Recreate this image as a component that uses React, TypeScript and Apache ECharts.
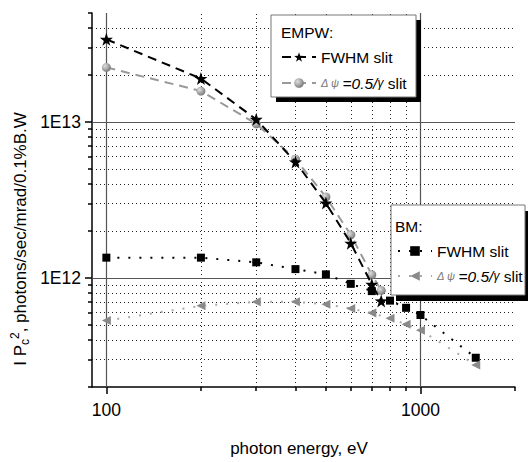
import React, { useEffect, useRef } from 'react';
import * as echarts from 'echarts';

// ---- data ----
const energyEmpw = [100, 200, 300, 400, 500, 600, 700, 750];
const empwFwhm = [3.39e13, 1.9e13, 1.04e13, 5.55e12, 3.02e12, 1.67e12, 0.91e12, 0.713e12];
const empwHalf = [2.24e13, 1.58e13, 9.75e12, 5.78e12, 3.31e12, 1.89e12, 1.05e12, 0.832e12];

const energyBm = [100, 200, 300, 400, 500, 600, 700, 800, 900, 1000, 1500];
const bmFwhm = [1.35e12, 1.35e12, 1.26e12, 1.14e12, 1.055e12, 0.917e12, 0.824e12, 0.716e12, 0.644e12, 0.579e12, 0.308e12];
const bmHalf = [0.533e12, 0.663e12, 0.703e12, 0.703e12, 0.679e12, 0.637e12, 0.596e12, 0.551e12, 0.505e12, 0.463e12, 0.277e12];

// ---- axes ----
const xMin = 90;
const xMax = 2000;
const yMin = 2e11;
const yMax = 5e13;
const xMajor = [100, 1000];
const xTickLabels = ['100', '1000'];
const xMinor = [200, 300, 400, 500, 600, 700, 800, 900];
const xMinorTicks = [200, 300, 400, 500, 600, 700, 800, 900, 2000];
const yMajor = [1e12, 1e13];
const yTickLabels = ['1E12', '1E13'];
const yMinor = [3e11, 4e11, 5e11, 6e11, 7e11, 8e11, 9e11, 2e12, 3e12, 4e12, 5e12, 6e12, 7e12, 8e12, 9e12, 2e13, 3e13, 4e13];
const yMinorTicks = [2e11, ...yMinor, 5e13];

const FONT = "'Liberation Sans', Arial, sans-serif";
const STAR = 'path://M50,0 L61.8,35.1 98.1,35.3 68.8,57 79.4,91.9 50,70.6 20.6,91.9 31.2,57 1.9,35.3 38.2,35.1 Z';

const legendText: Record<string, string> = {
  'EMPW FWHM': 'FWHM slit',
  'EMPW half': '{d|Δ ψ }{i|=0.5/}{g|γ} slit',
  'BM FWHM': 'FWHM slit',
  'BM half': '{d|Δ ψ }{i|=0.5/}{g|γ} slit',
};

const pick = (vals: number[], labels: string[], v: number) => {
  for (let i = 0; i < vals.length; i++) {
    if (Math.abs(vals[i] - v) / vals[i] < 1e-6) return labels[i];
  }
  return '';
};

const ballColor = {
  type: 'radial',
  x: 0.35,
  y: 0.35,
  r: 0.75,
  colorStops: [
    { offset: 0, color: '#e0e0e0' },
    { offset: 1, color: '#6f6f6f' },
  ],
};

export default function App() {
  const ref = useRef<HTMLDivElement>(null);
  useEffect(() => {
    if (!ref.current) return;
    const chart = echarts.init(ref.current, null, { renderer: 'svg' });
    const major = { color: '#555', width: 1.2, type: 'solid' };
    const minor = { color: '#222', width: 1, type: [1, 3] };
    const legendRich = {
      d: { fontSize: 11, color: '#777', fontStyle: 'italic', fontFamily: FONT },
      i: { fontSize: 15.5, color: '#000', fontStyle: 'italic', fontFamily: FONT },
      g: { fontSize: 12, color: '#000', fontStyle: 'italic', fontFamily: FONT },
    };
    const legendBase = {
      orient: 'vertical',
      padding: 0,
      itemWidth: 34,
      itemHeight: 12,
      selectedMode: false,
      z: 12,
      formatter: (n: string) => legendText[n],
      textStyle: { fontFamily: FONT, fontSize: 15.5, color: '#000', rich: legendRich },
    };
    const option: any = {
      animation: false,
      backgroundColor: '#fff',
      grid: { left: 92, right: 13, top: 13, bottom: 69 },
      xAxis: [
        {
          type: 'log',
          logBase: 10,
          min: xMin,
          max: xMax,
          name: 'photon energy, eV',
          nameLocation: 'middle',
          nameGap: 53,
          nameTextStyle: { fontFamily: FONT, fontSize: 17, color: '#000', padding: [0, 9, 0, 0] },
          axisLine: { show: true, lineStyle: { color: '#000', width: 1.5 } },
          axisTick: { show: true, length: 4, lineStyle: { color: '#000', width: 1.5 }, customValues: xMinorTicks },
          axisLabel: {
            fontFamily: FONT,
            fontSize: 17.5,
            color: '#000',
            margin: 14,
            customValues: xMajor,
            formatter: (v: number) => pick(xMajor, xTickLabels, v),
          },
          splitLine: { show: false },
        },
        {
          type: 'log',
          logBase: 10,
          min: xMin,
          max: xMax,
          position: 'bottom',
          axisLine: { show: false },
          axisTick: { show: true, length: 7, lineStyle: { color: '#000', width: 1.5 }, customValues: xMajor },
          axisLabel: { show: false },
          splitLine: { show: false },
        },
      ],
      yAxis: [
        {
          type: 'log',
          logBase: 10,
          min: yMin,
          max: yMax,
          axisLine: { show: true, lineStyle: { color: '#000', width: 1.5 } },
          axisTick: { show: true, length: 4, lineStyle: { color: '#000', width: 1.5 }, customValues: yMinorTicks },
          axisLabel: {
            fontFamily: FONT,
            fontSize: 17.5,
            color: '#000',
            margin: 11,
            customValues: yMajor,
            formatter: (v: number) => pick(yMajor, yTickLabels, v),
          },
          splitLine: { show: false },
        },
        {
          type: 'log',
          logBase: 10,
          min: yMin,
          max: yMax,
          position: 'left',
          axisLine: { show: false },
          axisTick: { show: true, length: 7, lineStyle: { color: '#000', width: 1.5 }, customValues: yMajor },
          axisLabel: { show: false },
          splitLine: { show: false },
        },
      ],
      legend: [
        { ...legendBase, left: 281, top: 49, itemGap: 10, data: ['EMPW FWHM', 'EMPW half'] },
        { ...legendBase, left: 397, top: 243, itemGap: 9, data: ['BM FWHM', 'BM half'] },
      ],
      graphic: [
        { type: 'rect', z: 10, shape: { x: 276, y: 20, width: 145, height: 82 }, style: { fill: '#000' } },
        { type: 'rect', z: 10, shape: { x: 271, y: 15, width: 145, height: 82 }, style: { fill: '#fff', stroke: '#777', lineWidth: 1 } },
        { type: 'text', z: 11, x: 281, y: 32, style: { text: 'EMPW:', fill: '#000', fontFamily: FONT, fontSize: 15.5, verticalAlign: 'middle' } },
        { type: 'rect', z: 10, shape: { x: 396, y: 211, width: 134, height: 90 }, style: { fill: '#000' } },
        { type: 'rect', z: 10, shape: { x: 391, y: 205, width: 134, height: 90 }, style: { fill: '#fff', stroke: '#777', lineWidth: 1 } },
        { type: 'text', z: 11, x: 395, y: 226, style: { text: 'BM:', fill: '#000', fontFamily: FONT, fontSize: 15.5, verticalAlign: 'middle' } },
        {
          type: 'text',
          x: 20,
          y: 239,
          rotation: Math.PI / 2,
          style: {
            text: '{m|I P}{s|c}{p|2}{m|, photons/sec/mrad/0.1%B.W}',
            align: 'center',
            verticalAlign: 'middle',
            fill: '#000',
            rich: {
              m: { fontFamily: FONT, fontSize: 17, lineHeight: 22, color: '#000' },
              s: { fontFamily: FONT, fontSize: 12, lineHeight: 12, verticalAlign: 'bottom', color: '#000' },
              p: { fontFamily: FONT, fontSize: 12, lineHeight: 12, verticalAlign: 'top', color: '#000' },
            },
          },
        },
      ],
      series: [
        {
          name: 'grid',
          type: 'line',
          data: [],
          z: 1,
          markLine: {
            silent: true,
            z: 1,
            symbol: ['none', 'none'],
            label: { show: false },
            data: [
              ...xMajor.map((v) => ({ xAxis: v, lineStyle: major })),
              ...xMinor.map((v) => ({ xAxis: v, lineStyle: minor })),
              ...yMajor.map((v) => ({ yAxis: v, lineStyle: major })),
              ...yMinor.map((v) => ({ yAxis: v, lineStyle: minor })),
            ],
          },
        },
        {
          name: 'EMPW FWHM',
          type: 'line',
          z: 4,
          data: energyEmpw.map((e, i) => [e, empwFwhm[i]]),
          symbol: STAR,
          symbolSize: 13,
          itemStyle: { color: '#000' },
          lineStyle: { color: '#000', width: 2, type: [9, 6] },
        },
        {
          name: 'EMPW half',
          type: 'line',
          z: 3,
          data: energyEmpw.map((e, i) => [e, empwHalf[i]]),
          symbol: 'circle',
          symbolSize: 9,
          itemStyle: { color: ballColor },
          lineStyle: { color: '#999', width: 2, type: [9, 6] },
        },
        {
          name: 'BM FWHM',
          type: 'line',
          z: 3,
          data: energyBm.map((e, i) => [e, bmFwhm[i]]),
          symbol: 'rect',
          symbolSize: 8,
          itemStyle: { color: '#000' },
          lineStyle: { color: '#000', width: 2, type: [2, 9] },
        },
        {
          name: 'BM half',
          type: 'line',
          z: 3,
          data: energyBm.map((e, i) => [e, bmHalf[i]]),
          symbol: 'triangle',
          symbolRotate: 90,
          symbolSize: [9, 9],
          itemStyle: { color: '#8a8a8a' },
          lineStyle: { color: '#aaa', width: 2, type: [2, 9] },
        },
      ],
    };
    chart.setOption(option);
    return () => chart.dispose();
  }, []);
  return <div ref={ref} style={{ position: 'absolute', left: 0, top: 0, width: 528, height: 462 }} />;
}
